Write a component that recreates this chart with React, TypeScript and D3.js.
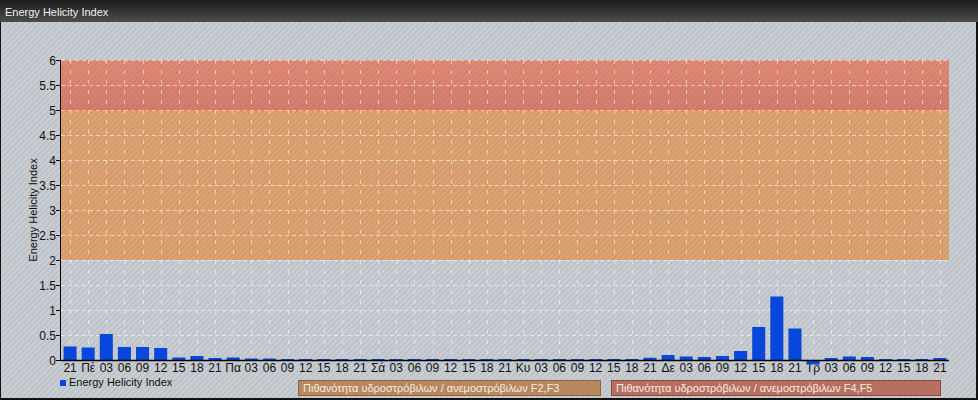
import React, { useEffect, useRef } from 'react';
import * as d3 from 'd3';

const categories = [
  '21',
  'Πέ', '03', '06', '09', '12', '15', '18', '21',
  'Πα', '03', '06', '09', '12', '15', '18', '21',
  'Σά', '03', '06', '09', '12', '15', '18', '21',
  'Κυ', '03', '06', '09', '12', '15', '18', '21',
  'Δε', '03', '06', '09', '12', '15', '18', '21',
  'Τρ', '03', '06', '09', '12', '15', '18', '21',
];

const helicity = [
  0.27,
  0.25, 0.52, 0.26, 0.26, 0.24, 0.05, 0.08, 0.04,
  0.05, 0.03, 0.03, 0.02, 0.02, 0.02, 0.02, 0.02,
  0.02, 0.02, 0.02, 0.02, 0.02, 0.02, 0.02, 0.02,
  0.02, 0.02, 0.02, 0.02, 0.02, 0.02, 0.02, 0.045,
  0.1, 0.07, 0.06, 0.08, 0.18, 0.66, 1.27, 0.63,
  -0.09, 0.04, 0.07, 0.06, 0.02, 0.02, 0.02, 0.04,
];

const yTicks = [0, 0.5, 1, 1.5, 2, 2.5, 3, 3.5, 4, 4.5, 5, 5.5, 6];

const bands = [
  { from: 2, to: 5, label: 'Πιθανότητα υδροστρόβιλων / ανεμοστρόβιλων F2,F3' },
  { from: 5, to: 6, label: 'Πιθανότητα υδροστρόβιλων / ανεμοστρόβιλων F4,F5' },
];

const seriesName = 'Energy Helicity Index';

export default function App() {
  const svgRef = useRef<SVGSVGElement>(null);

  useEffect(() => {
    if (!svgRef.current) return;
    const svg = d3.select(svgRef.current);
    svg.selectAll('*').remove();

    const width = 978;
    const height = 400;
    const left = 61, right = 949, top = 60, bottom = 360;
    const font = '"Liberation Sans", Arial, sans-serif';

    const defs = svg.append('defs');
    const hdr = defs.append('linearGradient').attr('id', 'hdr').attr('x1', 0).attr('y1', 0).attr('x2', 0).attr('y2', 1);
    hdr.append('stop').attr('offset', '0%').attr('stop-color', '#1c1c1c');
    hdr.append('stop').attr('offset', '100%').attr('stop-color', '#4c4c4c');

    const redGrad = defs.append('linearGradient').attr('id', 'redband').attr('x1', 0).attr('y1', 0).attr('x2', 0).attr('y2', 1);
    redGrad.append('stop').attr('offset', '0%').attr('stop-color', '#e48a74');
    redGrad.append('stop').attr('offset', '100%').attr('stop-color', '#d67c6c');

    const stripes = defs.append('pattern')
      .attr('id', 'stripes')
      .attr('patternUnits', 'userSpaceOnUse')
      .attr('width', 4).attr('height', 4)
      .attr('patternTransform', 'rotate(45)');
    stripes.append('rect').attr('width', 1.3).attr('height', 4).attr('fill', 'rgba(90,100,110,0.16)');

    // frame + header
    svg.append('rect').attr('width', width).attr('height', height).attr('fill', '#111');
    svg.append('rect').attr('x', 1).attr('y', 22).attr('width', width - 3).attr('height', height - 24).attr('fill', '#c9ced3');
    svg.append('rect').attr('x', 0).attr('y', 0).attr('width', width).attr('height', 22).attr('fill', 'url(#hdr)');
    svg.append('text')
      .attr('x', 5).attr('y', 15.5)
      .attr('fill', '#f2f2f2')
      .attr('font-family', font).attr('font-size', '11px')
      .text(seriesName);

    const x = d3.scaleBand<number>()
      .domain(d3.range(categories.length))
      .range([left, right])
      .paddingInner(0.28)
      .paddingOuter(0.14);
    const y = d3.scaleLinear().domain([0, 6]).range([bottom, top]);
    const cx = (i: number) => (x(i) as number) + x.bandwidth() / 2;

    // plot bands
    svg.append('rect')
      .attr('x', left).attr('width', right - left)
      .attr('y', y(bands[0].to)).attr('height', y(bands[0].from) - y(bands[0].to))
      .attr('fill', '#dea36f');
    svg.append('rect')
      .attr('x', left).attr('width', right - left)
      .attr('y', y(bands[1].to)).attr('height', y(bands[1].from) - y(bands[1].to))
      .attr('fill', 'url(#redband)');

    // diagonal texture over everything below header
    svg.append('rect').attr('x', 1).attr('y', 22).attr('width', width - 3).attr('height', height - 24).attr('fill', 'url(#stripes)');

    // band edge
    svg.append('line')
      .attr('x1', left).attr('x2', right).attr('y1', y(5)).attr('y2', y(5))
      .attr('stroke', '#ec7450').attr('stroke-width', 1.5);

    // grid
    svg.append('g').selectAll('line')
      .data(yTicks.filter(t => t > 0))
      .enter().append('line')
      .attr('x1', left).attr('x2', right)
      .attr('y1', d => y(d) + 0.5).attr('y2', d => y(d) + 0.5)
      .attr('stroke', 'rgba(255,255,255,0.55)')
      .attr('stroke-dasharray', '4,3');
    svg.append('g').selectAll('line')
      .data(d3.range(categories.length))
      .enter().append('line')
      .attr('x1', d => Math.round(cx(d)) + 0.5).attr('x2', d => Math.round(cx(d)) + 0.5)
      .attr('y1', top).attr('y2', bottom)
      .attr('stroke', 'rgba(255,255,255,0.55)')
      .attr('stroke-dasharray', '4,6');

    // y axis
    const yAxis = svg.append('g');
    yAxis.append('line')
      .attr('x1', left - 0.5).attr('x2', left - 0.5).attr('y1', top).attr('y2', bottom)
      .attr('stroke', '#000');
    const yt = yAxis.selectAll('.yt').data(yTicks).enter().append('g')
      .attr('transform', d => `translate(0,${y(d) + 0.5})`);
    yt.append('line').attr('x1', left - 5).attr('x2', left).attr('stroke', '#000');
    yt.append('text')
      .attr('x', left - 5).attr('dy', '0.35em')
      .attr('text-anchor', 'end')
      .attr('fill', '#111')
      .attr('font-family', font).attr('font-size', '12px')
      .text(d => d3.format('~g')(d));

    svg.append('text')
      .attr('transform', `translate(37,${(top + bottom) / 2}) rotate(-90)`)
      .attr('text-anchor', 'middle')
      .attr('fill', '#111')
      .attr('font-family', font).attr('font-size', '11px')
      .text(seriesName);

    // x labels
    svg.append('g').selectAll('text')
      .data(categories)
      .enter().append('text')
      .attr('x', (d, i) => cx(i))
      .attr('y', 372)
      .attr('text-anchor', 'middle')
      .attr('fill', '#111')
      .attr('font-family', font).attr('font-size', '12px')
      .text(d => d);

    // bars
    svg.append('g').selectAll('rect')
      .data(helicity)
      .enter().append('rect')
      .attr('x', (d, i) => x(i) as number)
      .attr('width', x.bandwidth())
      .attr('y', d => y(Math.max(0, d)))
      .attr('height', d => Math.max(1, Math.abs(y(d) - y(0))))
      .attr('fill', '#0847dc');

    svg.append('line')
      .attr('x1', left).attr('x2', right).attr('y1', bottom + 0.5).attr('y2', bottom + 0.5)
      .attr('stroke', '#000').attr('stroke-width', 1.5);

    // legend
    svg.append('rect').attr('x', 60).attr('y', 380).attr('width', 6).attr('height', 6).attr('fill', '#0847dc');
    svg.append('text')
      .attr('x', 69).attr('y', 386)
      .attr('fill', '#111')
      .attr('font-family', font).attr('font-size', '11px')
      .text(seriesName);

    const boxes = [
      { x: 298, w: 302, fill: '#b8875e', stroke: '#8e6440', label: bands[0].label },
      { x: 611, w: 329, fill: '#b96f60', stroke: '#8a4a3e', label: bands[1].label },
    ];
    const bx = svg.append('g').selectAll('g').data(boxes).enter().append('g');
    bx.append('rect')
      .attr('x', d => d.x + 0.5).attr('y', 380.5)
      .attr('width', d => d.w).attr('height', 15)
      .attr('fill', d => d.fill).attr('stroke', d => d.stroke);
    bx.append('text')
      .attr('x', d => d.x + 5).attr('y', 392)
      .attr('fill', '#f6eee6')
      .attr('font-family', font).attr('font-size', '11px')
      .text(d => d.label);
  }, []);

  return (
    <svg
      ref={svgRef}
      width={978}
      height={400}
      style={{ position: 'absolute', left: 0, top: 0, display: 'block' }}
    />
  );
}
